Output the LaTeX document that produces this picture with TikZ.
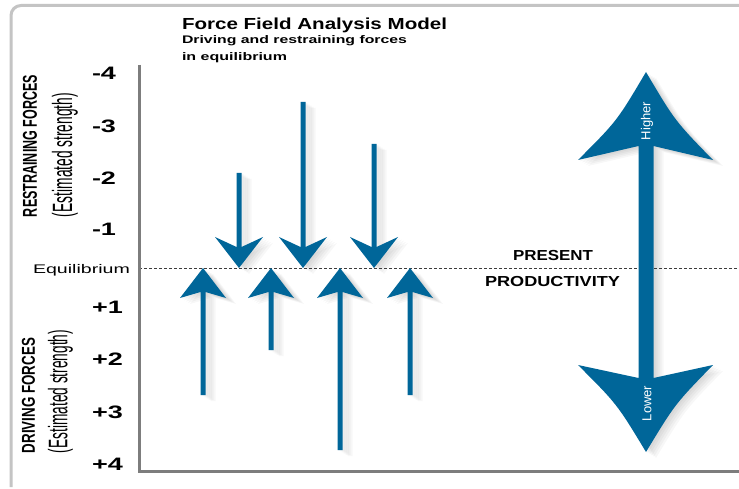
\documentclass[tikz,border=0pt]{standalone}
\usepackage{fontspec}
\setmainfont{Liberation Sans}
\usepackage{graphicx}
\definecolor{ffblue}{RGB}{0,102,153}
\definecolor{axisgray}{RGB}{125,125,125}
\definecolor{framegray}{RGB}{196,196,196}
\definecolor{dashgray}{RGB}{60,60,60}
\newcommand\wfit[2]{\resizebox{#1pt}{\height}{#2}}
\newcommand\hs[1]{\scalebox{1.5}[1]{#1}}
% down arrow: x, top y (tip at 268)
\newcommand\ffdown[3][ffblue]{\fill[#1] ({#2-2.5},#3) -- ({#2-2.5},247) -- ({#2-24},237) -- (#2,268) -- ({#2+24},237) -- ({#2+2.5},247) -- ({#2+2.5},#3) -- cycle;}
% up arrow: x, bottom y (tip at 268)
\newcommand\ffup[3][ffblue]{\fill[#1] ({#2-2.5},#3) -- ({#2-2.5},292) -- ({#2-23},298) -- (#2,268) -- ({#2+23},298) -- ({#2+2.5},292) -- ({#2+2.5},#3) -- cycle;}
\newcommand\ffbig[1][ffblue]{\fill[#1] (638.5,146) -- (578,160) .. controls (617,121) .. (646,72) .. controls (675,121) .. (713,160) -- (653.5,146) -- (653.5,378) -- (713,365) .. controls (675,404) .. (646,452) .. controls (617,404) .. (578,365) -- (638.5,378) -- cycle;}
\newcommand\ffall[1][ffblue]{%
  \ffdown[#1]{239}{173}\ffdown[#1]{303}{102}\ffdown[#1]{374}{144}%
  \ffup[#1]{203}{395}\ffup[#1]{271}{350}\ffup[#1]{340}{450}\ffup[#1]{410}{395}%
  \ffbig[#1]}
\begin{document}
\begin{tikzpicture}[x=1pt,y=-1pt,
  every node/.style={inner sep=0pt,outer sep=0pt},
  ticklab/.style={anchor=base west,font=\fontsize{18}{18}\selectfont\bfseries},
  sidelab/.style={rotate=90},
  biglab/.style={rotate=90,text=white,font=\fontsize{13}{13}\selectfont}]
\useasboundingbox (0,0) rectangle (739,489);
\fill[white] (0,0) rectangle (739,489);
% frame
\draw[framegray,line width=3pt,rounded corners=10pt] (739,5.5) -- (11,5.5) -- (11,487);
% shadows
\foreach \s in {2,4,6,8,10}{
  \begin{scope}[shift={(\s,{0.6*\s})}]
    \ffall[black,fill opacity=0.03]
  \end{scope}}
% equilibrium line
\draw[dashgray,line width=1pt,dash pattern=on 3pt off 2pt] (139,268) -- (739,268);
% arrows
\ffall
% axes
\draw[axisgray,line width=3pt] (139,65) -- (139,471.7) -- (739,471.7);
% title
\node[anchor=base west] (title) at (182,30) {\wfit{265}{\fontsize{16}{16}\selectfont\bfseries Force Field Analysis Model}};
\node[anchor=base west] (sub1) at (182,44) {\wfit{225}{\fontsize{11}{11}\selectfont\bfseries Driving and restraining forces}};
\node[anchor=base west] (sub2) at (182,61) {\wfit{105}{\fontsize{11}{11}\selectfont\bfseries in equilibrium}};
% ticks
\node[ticklab] (tm4) at (92,80) {\hs{-4}};
\node[ticklab] (tm3) at (92,133) {\hs{-3}};
\node[ticklab] (tm2) at (92,185) {\hs{-2}};
\node[ticklab] (tm1) at (92,235.5) {\hs{-1}};
\node[anchor=base west] (eq) at (33,273.3) {\wfit{97}{\fontsize{12.5}{12.5}\selectfont Equilibrium}};
\node[ticklab] (tp1) at (92,313) {\hs{+1}};
\node[ticklab] (tp2) at (92,365) {\hs{+2}};
\node[ticklab] (tp3) at (92,418) {\hs{+3}};
\node[ticklab] (tp4) at (92,470) {\hs{+4}};
% side labels
\node[sidelab] (rf) at (30,146) {\resizebox{142pt}{14pt}{\bfseries RESTRAINING FORCES}};
\node[sidelab] (rfe) at (65,155) {\resizebox*{124pt}{26pt}{(Estimated strength)}};
\node[sidelab] (df) at (28.5,395.5) {\resizebox{115pt}{13pt}{\bfseries DRIVING FORCES}};
\node[sidelab] (dfe) at (60.5,391.5) {\resizebox*{123pt}{25pt}{(Estimated strength)}};
% present productivity
\node[anchor=base west] (pres) at (513,260.7) {\wfit{80}{\fontsize{14.5}{14.5}\selectfont\bfseries PRESENT}};
\node[anchor=base west] (prod) at (485,286.7) {\wfit{135}{\fontsize{14.5}{14.5}\selectfont\bfseries PRODUCTIVITY}};
% higher / lower
\node[biglab] (hi) at (647,121) {Higher};
\node[biglab] (lo) at (647,403.5) {Lower};
\end{tikzpicture}
\end{document}
